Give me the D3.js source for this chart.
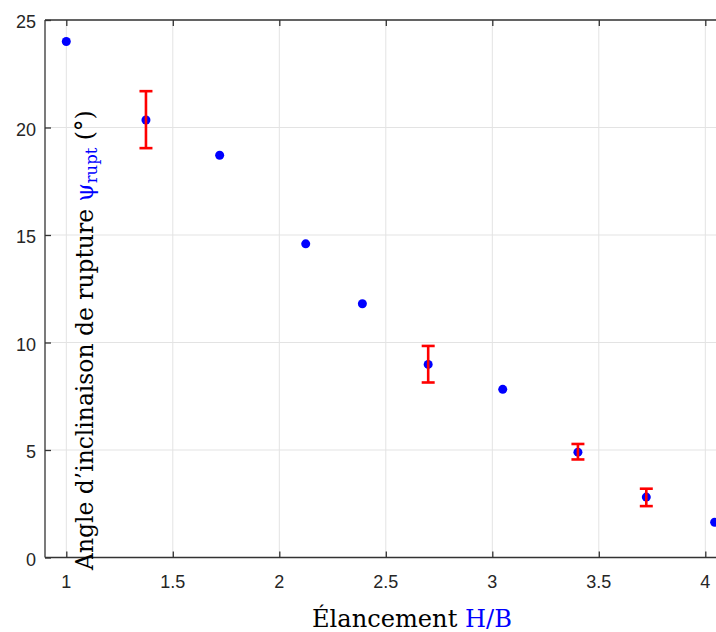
<!DOCTYPE html>
<html>
<head>
<meta charset="utf-8">
<script src="https://cdn.jsdelivr.net/npm/d3@7"></script>
<style>
html,body{margin:0;padding:0;background:#fff;overflow:hidden;}
</style>
</head>
<body>
<svg id="chart" width="716" height="632"></svg>
<script>
// ---- data ----
const elancement = [1.0, 1.374, 1.72, 2.124, 2.39, 2.699, 3.049, 3.402, 3.723, 4.044];
const angleRupt  = [24.0, 20.35, 18.71, 14.59, 11.8, 8.98, 7.82, 4.90, 2.81, 1.64];
const errLow     = [null, 19.04, null, null, null, 8.14, null, 4.56, 2.39, null];
const errHigh    = [null, 21.69, null, null, null, 9.84, null, 5.28, 3.20, null];
const xTicks = [1, 1.5, 2, 2.5, 3, 3.5, 4];
const xTickLabels = ["1", "1.5", "2", "2.5", "3", "3.5", "4"];
const yTicks = [0, 5, 10, 15, 20, 25];
const yTickLabels = ["0", "5", "10", "15", "20", "25"];
const xDomain = [0.9, 4.1];
const yDomain = [0, 25];

const svg = d3.select("#chart");
const L = 45, T = 20, B = 557.5;
const x = d3.scaleLinear().domain(xDomain).range([L, 726.6]);
const y = d3.scaleLinear().domain(yDomain).range([B, T]);
const axisColor = "#333333";
const tickFont = "'Liberation Sans', Arial, Helvetica, sans-serif";

// grid
const grid = svg.append("g");
grid.selectAll("line.gx").data(xTicks).enter().append("line")
  .attr("x1", d => x(d)).attr("x2", d => x(d)).attr("y1", T).attr("y2", B)
  .attr("stroke", "#e3e3e3").attr("stroke-width", 1);
grid.selectAll("line.gy").data(yTicks).enter().append("line")
  .attr("x1", L).attr("x2", 716).attr("y1", d => y(d)).attr("y2", d => y(d))
  .attr("stroke", "#e3e3e3").attr("stroke-width", 1);

// axes (inward ticks)
const xAxisB = d3.axisTop(x).tickValues(xTicks).tickSize(6).tickFormat("");
const xAxisT = d3.axisBottom(x).tickValues(xTicks).tickSize(6).tickFormat("");
const yAxisL = d3.axisRight(y).tickValues(yTicks).tickSize(6).tickFormat("");
function styleAxis(g){
  g.select(".domain").remove();
  g.selectAll(".tick line").attr("stroke", axisColor).attr("stroke-width", 1.3);
}
svg.append("g").attr("transform", `translate(0,${B})`).call(xAxisB).call(styleAxis);
svg.append("g").attr("transform", `translate(0,${T})`).call(xAxisT).call(styleAxis);
svg.append("g").attr("transform", `translate(${L},0)`).call(yAxisL).call(styleAxis);

// frame lines
svg.append("line").attr("x1", L).attr("x2", 716).attr("y1", B).attr("y2", B)
  .attr("stroke", axisColor).attr("stroke-width", 1.3);
svg.append("line").attr("x1", L).attr("x2", 716).attr("y1", T).attr("y2", T)
  .attr("stroke", axisColor).attr("stroke-width", 1.3);
svg.append("line").attr("x1", L).attr("x2", L).attr("y1", T).attr("y2", B)
  .attr("stroke", axisColor).attr("stroke-width", 1.3);

// tick labels
svg.append("g").selectAll("text").data(xTicks).enter().append("text")
  .attr("x", d => x(d)).attr("y", 588)
  .attr("text-anchor", "middle")
  .style("font-family", tickFont).style("font-size", "18px").attr("fill", "#262626")
  .text((d, i) => xTickLabels[i]);
svg.append("g").selectAll("text").data(yTicks).enter().append("text")
  .attr("x", 36).attr("y", d => y(d) + 2).attr("dy", "0.35em")
  .attr("text-anchor", "end")
  .style("font-family", tickFont).style("font-size", "18px").attr("fill", "#262626")
  .text((d, i) => yTickLabels[i]);

// data
const pts = elancement.map((v, i) => ({x: v, y: angleRupt[i], lo: errLow[i], hi: errHigh[i]}));
svg.append("g").selectAll("circle").data(pts).enter().append("circle")
  .attr("cx", d => x(d.x)).attr("cy", d => y(d.y)).attr("r", 4.5)
  .attr("fill", "#0000ff");

const eb = svg.append("g").selectAll("g").data(pts.filter(d => d.lo != null)).enter().append("g")
  .attr("stroke", "#ff0000").attr("stroke-width", 2.6).attr("fill", "none");
eb.append("line").attr("x1", d => x(d.x)).attr("x2", d => x(d.x))
  .attr("y1", d => y(d.lo)).attr("y2", d => y(d.hi));
eb.append("line").attr("x1", d => x(d.x) - 6.5).attr("x2", d => x(d.x) + 6.5)
  .attr("y1", d => y(d.lo)).attr("y2", d => y(d.lo));
eb.append("line").attr("x1", d => x(d.x) - 6.5).attr("x2", d => x(d.x) + 6.5)
  .attr("y1", d => y(d.hi)).attr("y2", d => y(d.hi));

// labels
const serif = "'DejaVu Serif', 'Liberation Serif', serif";
function fit(textSel, target){
  const len = textSel.node().getComputedTextLength();
  const fs = parseFloat(textSel.style("font-size"));
  textSel.style("font-size", (fs * target / len) + "px");
}
const xl = svg.append("text").attr("x", 312).attr("y", 627)
  .style("font-family", serif).style("font-size", "24px").attr("fill", "#000");
xl.append("tspan").text("Élancement ");
xl.append("tspan").attr("fill", "#0000ff").text("H/B");
fit(xl, 200);

const yl = svg.append("text").attr("transform", "translate(93,570) rotate(-90)")
  .style("font-family", serif).style("font-size", "24px").attr("fill", "#000");
yl.append("tspan").text("Angle d’inclinaison de rupture ");
yl.append("tspan").attr("fill", "#0000ff").text("ψ");
yl.append("tspan").attr("fill", "#0000ff").attr("dy", "0.25em").style("font-size", "70%").text("rupt");
yl.append("tspan").attr("dy", "-0.18em").text(" (°)");
fit(yl, 460);
</script>
</body>
</html>
